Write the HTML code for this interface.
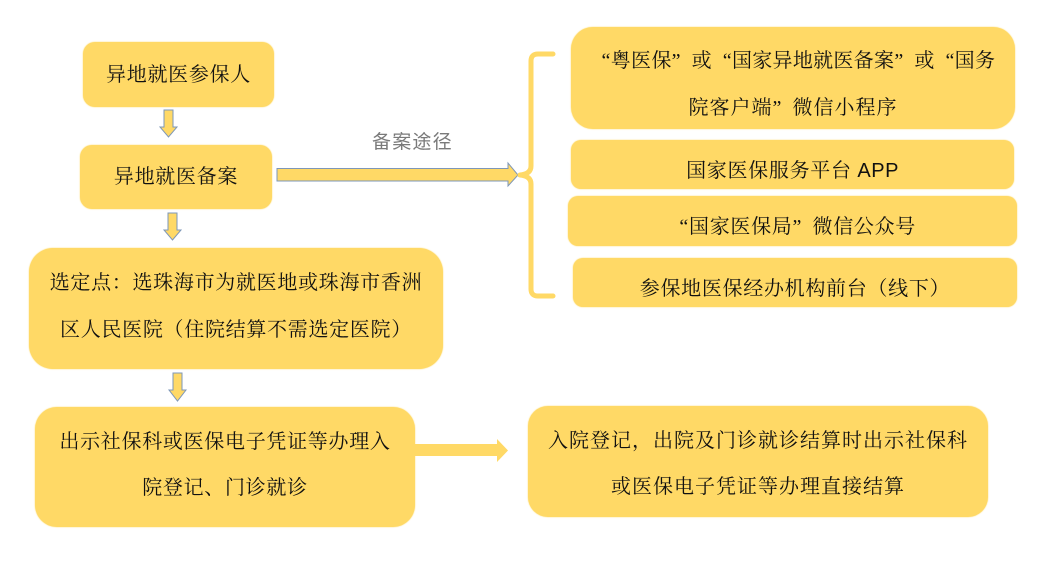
<!DOCTYPE html>
<html>
<head>
<meta charset="utf-8">
<style>
  html, body { margin:0; padding:0; }
  body { width:1061px; height:572px; position:relative; overflow:hidden; background:#ffffff; }
  .b { position:absolute; background:#FFD966; box-shadow:0 0 1.5px #FFD966; }
  .t { position:absolute; height:30px; line-height:30px; text-align:center; white-space:nowrap;
       font-family:"Liberation Serif","Noto Serif CJK SC",serif; font-size:20px; color:#111;
       letter-spacing:0.7px; }
  .ql, .qr { display:inline-block; width:20px; }
  .ql { text-align:right; }
  .qr { text-align:left; }
  .lab { position:absolute; font-family:"Liberation Sans","Noto Sans CJK SC",sans-serif; font-size:19px;
         color:#7a7a7a; letter-spacing:1.2px; line-height:24px; white-space:nowrap; }
  svg { position:absolute; left:0; top:0; }
</style>
</head>
<body>

<!-- Left column boxes -->
<div class="b" style="left:83px;top:42px;width:191px;height:65px;border-radius:12px;"></div>
<div class="b" style="left:80px;top:145px;width:192px;height:64px;border-radius:12px;"></div>
<div class="b" style="left:29px;top:248px;width:414px;height:121px;border-radius:24px;"></div>
<div class="b" style="left:35px;top:407px;width:380px;height:120px;border-radius:22px;"></div>

<!-- Right column boxes -->
<div class="b" style="left:571px;top:27px;width:444px;height:102px;border-radius:22px;"></div>
<div class="b" style="left:571px;top:140px;width:443px;height:49px;border-radius:10px;"></div>
<div class="b" style="left:568px;top:196px;width:449px;height:50px;border-radius:10px;"></div>
<div class="b" style="left:573px;top:258px;width:444px;height:49px;border-radius:10px;"></div>

<!-- Bottom right box -->
<div class="b" style="left:528px;top:406px;width:460px;height:111px;border-radius:20px;"></div>

<svg width="1061" height="572" viewBox="0 0 1061 572">
  <!-- down arrows -->
  <polygon points="164,110 173,110 173,127 177,127 168.5,137 160,127 164,127" fill="#FFD966" stroke="#7E97B8" stroke-width="1"/>
  <polygon points="168,213 177,213 177,230 181,230 172.5,240 164,230 168,230" fill="#FFD966" stroke="#7E97B8" stroke-width="1"/>
  <polygon points="173,373 182,373 182,390 186,390 177.5,401 169,390 173,390" fill="#FFD966" stroke="#7E97B8" stroke-width="1"/>
  <!-- horizontal arrow to bracket -->
  <polygon points="277,168.5 508,168.5 508,163 518,175 508,186 508,181 277,181" fill="#FFD966" stroke="#7E97B8" stroke-width="1"/>
  <!-- bracket -->
  <path d="M553,54 L538,54 Q531,54 531,61 L531,166 Q531,174 520,175 Q531,176 531,184 L531,289 Q531,296 538,296 L553,296"
        fill="none" stroke="#FFD966" stroke-width="5" stroke-linejoin="round" stroke-linecap="round"/>
  <!-- solid arrow box4 -> box5 -->
  <polygon points="414,444 497,444 497,439 508,450.5 497,462 497,456 414,456" fill="#FFD966"/>
</svg>

<!-- Texts -->
<div class="t" style="left:83px;width:191px;top:60px;">异地就医参保人</div>
<div class="t" style="left:80px;width:192px;top:162px;">异地就医备案</div>

<div class="lab" style="left:372px;top:131px;">备案途径</div>

<div class="t" style="left:29px;width:414px;top:268px;">选定点：选珠海市为就医地或珠海市香洲</div>
<div class="t" style="left:29px;width:414px;top:315px;">区人民医院（住院结算不需选定医院）</div>

<div class="t" style="left:35px;width:380px;top:427px;">出示社保科或医保电子凭证等办理入</div>
<div class="t" style="left:35px;width:380px;top:473px;">院登记、门诊就诊</div>

<div class="t" style="left:571px;width:444px;top:46px;letter-spacing:0.3px;"><span class="ql">“</span>粤医保<span class="qr">”</span>或<span class="ql">“</span>国家异地就医备案<span class="qr">”</span>或<span class="ql">“</span>国务</div>
<div class="t" style="left:571px;width:444px;top:93px;letter-spacing:1px;">院客户端<span class="qr">”</span>微信小程序</div>

<div class="t" style="left:571px;width:443px;top:156px;">国家医保服务平台 <span style="font-family:'Liberation Sans',sans-serif;letter-spacing:0.5px;">APP</span></div>
<div class="t" style="left:568px;width:449px;top:212px;"><span class="ql">“</span>国家医保局<span class="qr">”</span>微信公众号</div>
<div class="t" style="left:573px;width:444px;top:274px;">参保地医保经办机构前台（线下）</div>

<div class="t" style="left:528px;width:460px;top:426px;letter-spacing:1px;">入院登记，出院及门诊就诊结算时出示社保科</div>
<div class="t" style="left:528px;width:460px;top:472px;letter-spacing:1px;">或医保电子凭证等办理直接结算</div>

</body>
</html>
